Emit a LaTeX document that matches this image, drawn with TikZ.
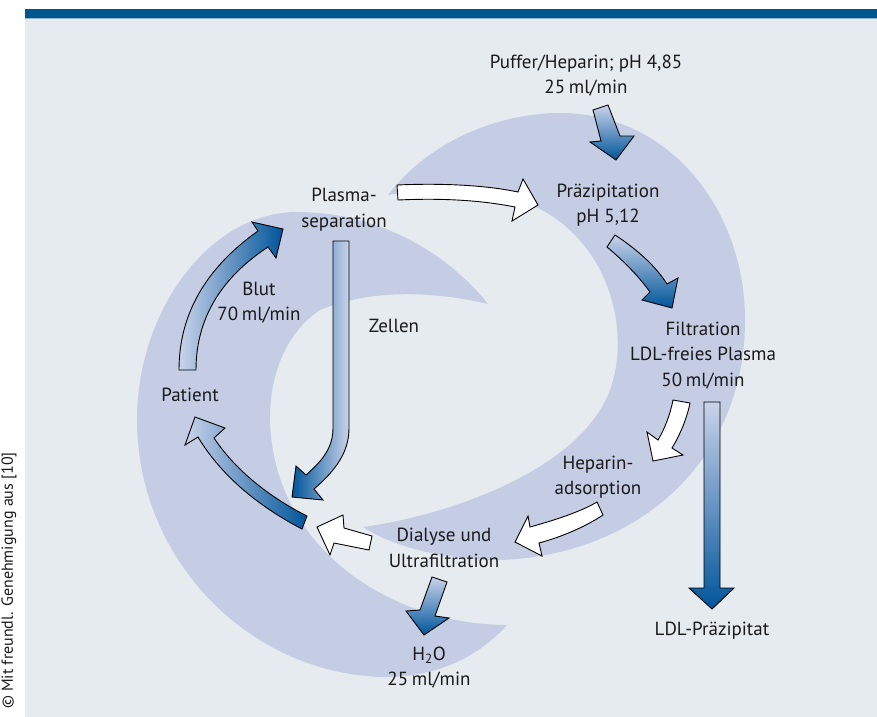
\documentclass[tikz,border=0pt]{standalone}
\usepackage{fontspec}
\setmainfont{PT Sans}
\definecolor{bandcol}{HTML}{00568F}
\definecolor{panelcol}{HTML}{E6EBF0}
\definecolor{crescol}{HTML}{C5CDE5}
\definecolor{lightc}{HTML}{CAD3EA}
\definecolor{darkc}{HTML}{00559A}
\definecolor{txtcol}{HTML}{1A1A1A}
\tikzset{
  crescent/.style={fill=crescol},
  arrowbody/.style={draw=black, line width=0.9pt, line join=miter},
  whitearrow/.style={arrowbody, fill=white},
  lbl/.style={font=\fontsize{19}{25.5}\selectfont, align=center, anchor=base, inner sep=0pt, text=txtcol},
  credit/.style={font=\fontsize{16}{18}\selectfont, rotate=90, anchor=east, inner sep=0pt, text=txtcol}
}
\newcommand{\rate}[1]{#1\hspace{0.2em}ml/min}
\begin{document}
\begin{tikzpicture}[x=1pt,y=-1pt]
\useasboundingbox (0,0) rectangle (877,716);
\fill[white] (-5,-5) rectangle (882,721);
% panel and band
\fill[panelcol] (25,18) rectangle (882,721);
\fill[bandcol] (25,9) rectangle (882,18);
\fill[bandcol!35!panelcol] (25,18) rectangle (882,19.2);
% left crescent
\fill[crescent] (488,304) .. controls (445,250) and (375,212) .. (297,212)
  .. controls (210,212) and (137,310) .. (137,420)
  .. controls (137,560) and (250,675) .. (385,677)
  .. controls (440,677) and (480,655) .. (507,625)
  .. controls (430,625) and (345,590) .. (300,520)
  .. controls (255,450) and (260,350) .. (320,310)
  .. controls (380,285) and (450,295) .. (488,304) -- cycle;
% big crescent
\fill[crescent] (388,195) .. controls (430,140) and (500,113) .. (560,113)
  .. controls (670,113) and (745,210) .. (745,320)
  .. controls (745,460) and (640,555) .. (500,560)
  .. controls (440,560) and (390,545) .. (363,527)
  .. controls (450,515) and (580,470) .. (610,390)
  .. controls (635,320) and (600,215) .. (500,195)
  .. controls (460,190) and (420,190) .. (388,195) -- cycle;
% Blut arrow
\shadedraw[arrowbody, left color=lightc, right color=darkc]
  (179,370) .. controls (179,310) and (210,265) .. (258,231) -- (252,222) -- (283,229) -- (276,258) -- (268,247)
  .. controls (230,272) and (196,310) .. (196,370) -- cycle;
% Zellen arrow
\shadedraw[arrowbody, left color=darkc, right color=lightc]
  (333,241) -- (333,428) .. controls (333,448) and (322,461) .. (306,475) -- (296,466) -- (292,497) -- (323,500) -- (314,489)
  .. controls (336,470) and (349,452) .. (349,428) -- (349,241) -- cycle;
% Patient arrow
\shadedraw[arrowbody, left color=lightc, right color=darkc]
  (307,516) .. controls (275,500) and (238,474) .. (214,438) -- (225,428) -- (195,417) -- (185,445) -- (198,437)
  .. controls (222,477) and (260,507) .. (302,529) -- cycle;
% white arrows
\filldraw[whitearrow] (372,536) -- (344,528) -- (343,515) -- (317,527) -- (330,555) -- (334,543) -- (369,550) -- cycle;
\filldraw[whitearrow] (597,502) .. controls (580,512) and (555,520) .. (530,527) -- (528,516) -- (515,542) -- (542,556) -- (539,543)
  .. controls (565,536) and (588,525) .. (603,515) -- cycle;
\filldraw[whitearrow] (673,400) .. controls (670,415) and (665,428) .. (658,440) -- (647,432) -- (653,461) -- (683,455) -- (672,448)
  .. controls (680,435) and (687,418) .. (690,403) -- cycle;
\filldraw[whitearrow] (397,185) .. controls (440,183) and (485,185) .. (518,192) -- (523,179) -- (538,205) -- (512,221) -- (515,207)
  .. controls (480,200) and (440,198) .. (398,200) -- cycle;
% gradient straight arrows
\shadedraw[arrowbody, top color=lightc, bottom color=darkc]
  (704,402) -- (704,588) -- (689,588) -- (712,609) -- (734,588) -- (720,588) -- (720,402) -- cycle;
\shadedraw[arrowbody, top color=lightc, bottom color=darkc]
  (432,577) -- (420,610) -- (406,611) -- (424,635) -- (449,618) -- (435,616) -- (447,582) -- cycle;
\shadedraw[arrowbody, top color=lightc, bottom color=darkc]
  (593,110) -- (601,141) -- (590,142) -- (616,160) -- (634,136) -- (620,136) -- (608,105) -- cycle;
\shadedraw[arrowbody, top color=lightc, bottom color=darkc]
  (607,247) .. controls (625,262) and (640,278) .. (650,292) -- (642,300) -- (672,308) -- (678,278) -- (667,284)
  .. controls (655,265) and (635,248) .. (615,235) -- cycle;
% labels (anchor = baseline of last line)
\node[lbl] (puffer) at (586,93.5) {Puffer/Heparin; pH 4,85\\\rate{25}};
\node[lbl] (praez) at (608,222.5) {Präzipitation\\pH 5,12};
\node[lbl] (filt) at (703,386) {Filtration\\LDL-freies Plasma\\\rate{50}};
\node[lbl] (plasma) at (344,227) {Plasma-\\separation};
\node[lbl] (blut) at (259,320.5) {Blut\\\rate{70}};
\node[lbl] (zellen) at (394,332) {Zellen};
\node[lbl] (patient) at (190,401) {Patient};
\node[lbl] (heparin) at (598,494.5) {Heparin-\\adsorption};
\node[lbl] (dialyse) at (444,567) {Dialyse und\\Ultrafiltration};
\node[lbl] (water) at (429,685.5) {H\textsubscript{2}O\\\rate{25}};
\node[lbl] (ldl) at (712,635) {LDL-Präzipitat};
\node[credit] (cred) at (9,452) {© Mit freundl. Genehmigung aus [10]};
\end{tikzpicture}
\end{document}
